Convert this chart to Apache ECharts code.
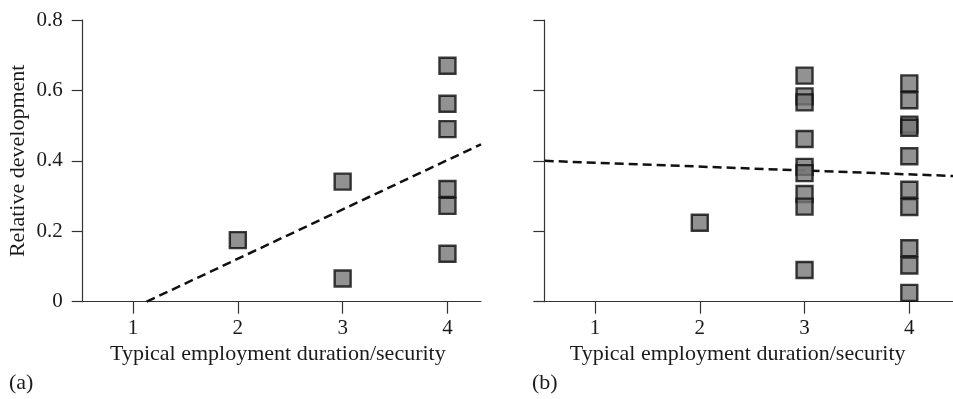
<!DOCTYPE html>
<html>
<head>
<meta charset="utf-8">
<script src="https://cdn.jsdelivr.net/npm/echarts@6/dist/echarts.min.js"></script>
<style>
html,body{margin:0;padding:0;background:#fff;}
#chart{width:953px;height:399px;}
</style>
</head>
<body>
<div id="chart"></div>
<script>
// ---- data ----
const xTicks = [1, 2, 3, 4];
const yTicks = [0, 0.2, 0.4, 0.6, 0.8];
const xTitle = 'Typical employment duration/security';
const yTitle = 'Relative development';
const panelLabels = ['(a)', '(b)'];

// panel (a)
const aX = [2, 3, 3, 4, 4, 4, 4, 4, 4];
const aY = [0.175, 0.341, 0.066, 0.670, 0.562, 0.490, 0.320, 0.272, 0.136];
const aFitX = [1.13, 4.32];
const aFitY = [0, 0.447];

// panel (b)
const bX = [2, 3, 3, 3, 3, 3, 3, 3, 3, 3, 4, 4, 4, 4, 4, 4, 4, 4, 4, 4];
const bY = [0.224, 0.642, 0.583, 0.566, 0.462, 0.383, 0.365, 0.306, 0.270, 0.090,
            0.620, 0.572, 0.503, 0.494, 0.413, 0.318, 0.269, 0.152, 0.103, 0.025];
const bFitX = [0.52, 4.42];
const bFitY = [0.40, 0.357];

const font = 'Liberation Serif';
const txt = '#1a1a1a';
const axisCol = '#333';

function pairs(xs, ys) { return xs.map((x, i) => [x, ys[i]]); }

function xAxis(idx, min, max, nameShift) {
  return {
    type: 'value', gridIndex: idx, min: min, max: max,
    splitLine: {show: false},
    axisLine: {show: true, onZero: false, lineStyle: {color: axisCol, width: 1.2}},
    axisTick: {show: true, customValues: xTicks, length: 12, lineStyle: {color: axisCol, width: 1.2}},
    axisLabel: {customValues: xTicks, margin: 16, color: txt, fontFamily: font, fontSize: 21},
    name: xTitle, nameLocation: 'middle', nameGap: 41,
    nameTextStyle: {color: txt, fontFamily: font, fontSize: 22, padding: [0, nameShift, 0, 0]}
  };
}
function yAxis(idx, showLabels) {
  return {
    type: 'value', gridIndex: idx, min: 0, max: 0.8, interval: 0.2,
    splitLine: {show: false},
    axisLine: {show: true, lineStyle: {color: axisCol, width: 1.2}},
    axisTick: {show: true, length: 11, lineStyle: {color: axisCol, width: 1.2}},
    axisLabel: {show: showLabels, margin: 20, color: txt, fontFamily: font, fontSize: 21,
      formatter: v => v === 0 ? '0' : v.toFixed(1)},
    name: showLabels ? yTitle : '', nameLocation: 'middle', nameGap: 53,
    nameTextStyle: {color: txt, fontFamily: font, fontSize: 22}
  };
}
const scatterStyle = {color: '#777777', borderColor: '#0d0d0d', borderWidth: 2.4};
function scatter(idx, data) {
  return {type: 'scatter', xAxisIndex: idx, yAxisIndex: idx, data: data,
    symbol: 'rect', symbolSize: 16, itemStyle: scatterStyle, z: 3, silent: true};
}
function fit(idx, data) {
  return {type: 'line', xAxisIndex: idx, yAxisIndex: idx, data: data, showSymbol: false,
    lineStyle: {color: '#111', width: 2.5, type: [9, 5]}, z: 2, silent: true};
}

const chart = echarts.init(document.getElementById('chart'), null, {renderer: 'canvas'});
chart.setOption({
  animation: false,
  backgroundColor: '#fff',
  grid: [
    {left: 82.7, top: 20, width: 398.3, height: 281.7},
    {left: 544.3, top: 20, width: 408.7, height: 281.7}
  ],
  xAxis: [xAxis(0, 0.52, 4.32, 8), xAxis(1, 0.516, 4.417, 22)],
  yAxis: [yAxis(0, true), yAxis(1, false)],
  series: [
    fit(0, pairs(aFitX, aFitY)),
    scatter(0, pairs(aX, aY)),
    fit(1, pairs(bFitX, bFitY)),
    scatter(1, pairs(bX, bY))
  ],
  graphic: [
    {type: 'text', left: 9, top: 372, style: {text: panelLabels[0], fill: txt, font: '22px "Liberation Serif"'}},
    {type: 'text', left: 532, top: 372, style: {text: panelLabels[1], fill: txt, font: '22px "Liberation Serif"'}}
  ]
});
</script>
</body>
</html>
